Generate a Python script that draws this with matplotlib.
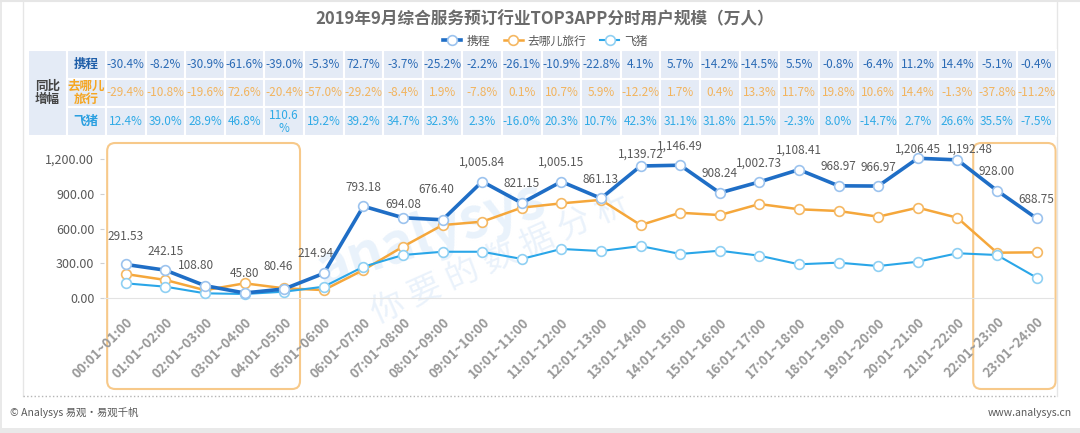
import matplotlib
matplotlib.use('Agg')
import matplotlib.pyplot as plt
from matplotlib.patches import Rectangle, FancyBboxPatch

plt.rcParams['font.family'] = ['Noto Sans CJK SC', 'DejaVu Sans']

# ---- data ----
hours = ['00:01~01:00', '01:01~02:00', '02:01~03:00', '03:01~04:00', '04:01~05:00',
         '05:01~06:00', '06:01~07:00', '07:01~08:00', '08:01~09:00', '09:01~10:00',
         '10:01~11:00', '11:01~12:00', '12:01~13:00', '13:01~14:00', '14:01~15:00',
         '15:01~16:00', '16:01~17:00', '17:01~18:00', '18:01~19:00', '19:01~20:00',
         '20:01~21:00', '21:01~22:00', '22:01~23:00', '23:01~24:00']

ctrip = [291.53, 242.15, 108.80, 45.80, 80.46, 214.94, 793.18, 694.08, 676.40, 1005.84,
         821.15, 1005.15, 861.13, 1139.72, 1146.49, 908.24, 1002.73, 1108.41, 968.97,
         966.97, 1206.45, 1192.48, 928.00, 688.75]
qunar = [209, 158, 70, 129, 86, 71, 244, 445, 631, 660, 781, 818, 848, 631, 737, 717,
         812, 767, 752, 703, 781, 694, 393, 396]
fliggy = [129, 100, 43, 37, 57, 100, 272, 373, 401, 401, 339, 425, 407, 450, 382, 410,
          367, 293, 307, 278, 315, 388, 373, 178]

ctrip_yoy = ['-30.4%', '-8.2%', '-30.9%', '-61.6%', '-39.0%', '-5.3%', '72.7%', '-3.7%',
             '-25.2%', '-2.2%', '-26.1%', '-10.9%', '-22.8%', '4.1%', '5.7%', '-14.2%',
             '-14.5%', '5.5%', '-0.8%', '-6.4%', '11.2%', '14.4%', '-5.1%', '-0.4%']
qunar_yoy = ['-29.4%', '-10.8%', '-19.6%', '72.6%', '-20.4%', '-57.0%', '-29.2%', '-8.4%',
             '1.9%', '-7.8%', '0.1%', '10.7%', '5.9%', '-12.2%', '1.7%', '0.4%',
             '13.3%', '11.7%', '19.8%', '10.6%', '14.4%', '-1.3%', '-37.8%', '-11.2%']
fliggy_yoy = ['12.4%', '39.0%', '28.9%', '46.8%', '110.6\n%', '19.2%', '39.2%', '34.7%',
              '32.3%', '2.3%', '-16.0%', '20.3%', '10.7%', '42.3%', '31.1%', '31.8%',
              '21.5%', '-2.3%', '8.0%', '-14.7%', '2.7%', '26.6%', '35.5%', '-7.5%']

names = ['携程', '去哪儿旅行', '飞猪']
row_names = ['携程', '去哪儿\n旅行', '飞猪']
highlight = [(0, 4), (22, 23)]   # hour ranges framed in orange

title = '2019年9月综合服务预订行业TOP3APP分时用户规模（万人）'

# ---- styles ----
line_c = ['#1f6ec6', '#f5a73b', '#2aa6e8']
edge_c = ['#9cc3ee', '#f5b863', '#8fd0f3']
txt_c = ['#2a6ab5', '#f2b45e', '#30aae6']
name_c = ['#1f5ea8', '#f5a623', '#2a9fe0']

# label nudges in pixels (dx, dy above point), default (0, 19)
label_nudge = {0: (0, 28), 2: (-9, 20), 4: (-6, 22), 5: (-8, 20), 7: (0, 13),
               8: (-6, 30), 13: (0, 12), 20: (0, 9), 21: (12, 11)}

W, H = 1080, 433
fig = plt.figure(figsize=(10.8, 4.33), dpi=100, facecolor='white')


def px(x0, y0, x1, y1):
    # pixel box, origin top-left -> figure fraction
    return [x0 / W, 1 - y1 / H, (x1 - x0) / W, (y1 - y0) / H]


# background decoration layer in pixel coords
deco = fig.add_axes([0, 0, 1, 1], zorder=-2)
deco.set_xlim(0, W)
deco.set_ylim(H, 0)
deco.axis('off')

deco.add_patch(Rectangle((0, 428), W, 5, fc='#e9e9e9', ec='none'))
deco.add_patch(Rectangle((0, 0), 2, H, fc='#e9e9e9', ec='none'))
deco.plot([23, 23], [0, 396], color='#e6e6e6', lw=1)
deco.plot([1057, 1057], [0, 396], color='#e6e6e6', lw=1)
deco.plot([0, W], [1, 1], color='#e6e6e6', lw=1.5)
deco.plot([23, 1057], [396, 396], color='#b5b5b5', lw=1, ls=':')

deco.text(545, 19, title, fontsize=12, weight='bold', color='#6b6b6b', ha='center', va='center')
deco.text(10, 413, '© Analysys 易观·易观千帆', fontsize=7.5, color='#595959', va='center')
deco.text(1072, 413, 'www.analysys.cn', fontsize=7.5, color='#595959', ha='right', va='center')

# watermark
deco.text(430, 235, 'analysys', fontsize=40, color='#e9f2fb', rotation=18, weight='bold',
          ha='center', va='center')
deco.text(500, 258, '你 要 的 数 据 分 析', fontsize=24, color='#eaf2fb', rotation=24,
          ha='center', va='center')

# ---- main chart ----
x = list(range(len(hours)))
ax = fig.add_axes(px(104, 147.4, 1054.4, 298.3), zorder=2)
ax.set_facecolor('none')
ax.set_xlim(-0.55, 23.45)
ax.set_ylim(0, 1300)

series = [ctrip, qunar, fliggy]
widths = [2.6, 1.8, 1.5]
zs = [5, 3, 4]
handles = []
for s, name, lc, ec, lw, z in zip(series, names, line_c, edge_c, widths, zs):
    h, = ax.plot(x, s, color=lc, lw=lw, marker='o', ms=7, mfc='white', mec=ec, mew=1.2,
                 zorder=z, clip_on=False, label=name)
    handles.append(h)

for i, v in enumerate(ctrip):
    dx, dy = label_nudge.get(i, (0, 19))
    ax.annotate(f'{v:,.2f}', (i, v), xytext=(dx * 0.72, dy * 0.72), textcoords='offset points',
                ha='center', va='center', fontsize=8.5, color='#595959', zorder=6)

ax.set_yticks([0, 300, 600, 900, 1200])
ax.set_yticklabels([f'{t:,.2f}' for t in [0, 300, 600, 900, 1200]])
ax.tick_params(axis='y', length=3, color='#d0d0d0', labelsize=9, labelcolor='#595959', pad=4)
ax.set_xticks(x)
ax.set_xticklabels(hours, rotation=45, ha='right', va='top', rotation_mode='anchor')
ax.tick_params(axis='x', length=0, pad=12, labelsize=9.5, labelcolor='#9a9a9a')
for lab in ax.get_xticklabels():
    lab.set_fontweight('bold')
for sp in ['top', 'right', 'left']:
    ax.spines[sp].set_visible(False)
ax.spines['bottom'].set_color('#e3e3e3')

# orange frames around highlighted hours
pads = [(0.47, 0.4), (0.6, 0.48)]
for (a, b), (pl, pr) in zip(highlight, pads):
    x0 = ax.transData.transform((a - pl, 0))[0]
    x1 = ax.transData.transform((b + pr, 0))[0]
    deco.add_patch(FancyBboxPatch((x0, 143), x1 - x0, 246,
                                  boxstyle='round,pad=0,rounding_size=8',
                                  fc='none', ec='#f7c98a', lw=1.5))

# ---- YoY table ----
tb = fig.add_axes(px(104, 50, 1054.4, 136), zorder=1)
tb.set_xlim(-0.55, 23.45)
tb.set_ylim(3, 0)
tb.axis('off')
cell = '#e4ebf6'
tb.add_patch(Rectangle((-2.47, 0), 0.985, 3, fc=cell, ec='white', lw=1.5, clip_on=False))
tb.text(-1.98, 1.5, '同比\n增幅', ha='center', va='center', fontsize=9, weight='bold',
        color='#444444', linespacing=1.1, clip_on=False)
rows = [ctrip_yoy, qunar_yoy, fliggy_yoy]
for r, (vals, rn) in enumerate(zip(rows, row_names)):
    tb.add_patch(Rectangle((-1.485, r), 0.985, 1, fc=cell, ec='white', lw=1.5, clip_on=False))
    tb.text(-1.0, r + 0.5, rn, ha='center', va='center', fontsize=9, weight='bold',
            color=name_c[r], linespacing=1.05, clip_on=False)
    for i, v in enumerate(vals):
        tb.add_patch(Rectangle((i - 0.5, r), 1, 1, fc=cell, ec='white', lw=1.5, clip_on=False))
        tb.text(i, r + 0.5, v, ha='center', va='center', fontsize=8.5, color=txt_c[r],
                linespacing=1.0, clip_on=False)

leg = fig.legend(handles=handles, labels=names, loc='center', bbox_to_anchor=(545 / W, 1 - 41 / H),
                 ncol=3, frameon=False, fontsize=8.5, handlelength=1.6, columnspacing=1.2,
                 handletextpad=0.4, borderaxespad=0)
for t in leg.get_texts():
    t.set_color('#595959')

fig.savefig('out.png', dpi=100)
